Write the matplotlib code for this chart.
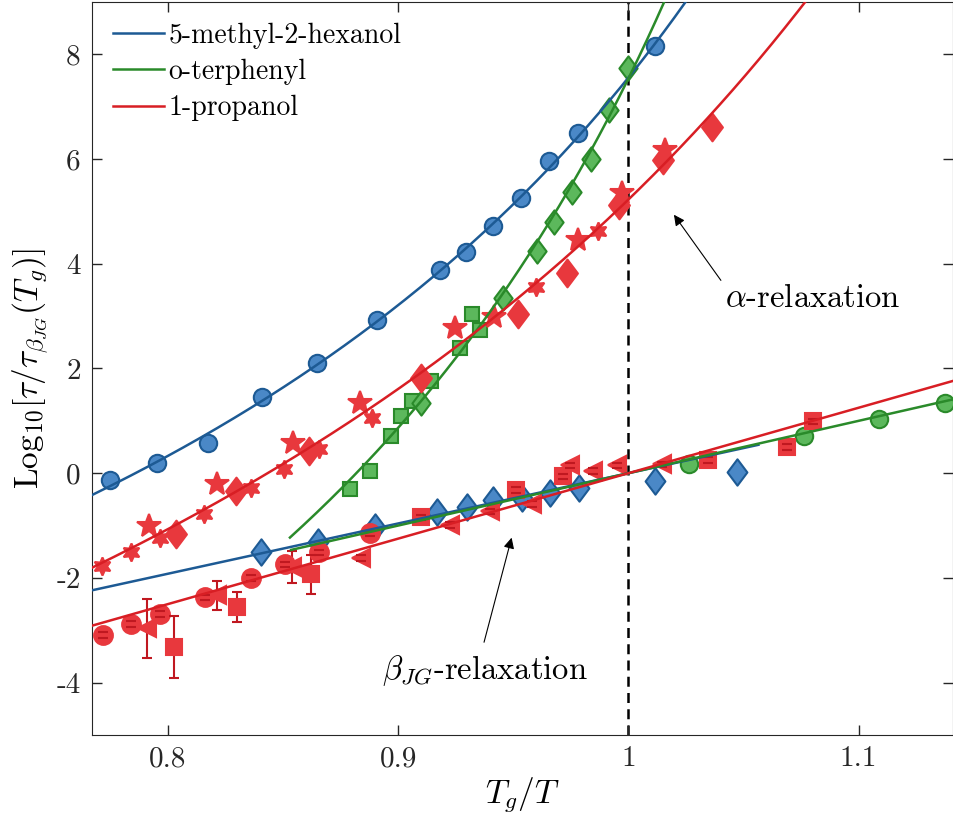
import numpy as np
import matplotlib.pyplot as plt
from matplotlib.path import Path

plt.rcParams['font.family'] = 'serif'
plt.rcParams['font.serif'] = ['cmr10']
plt.rcParams['mathtext.fontset'] = 'cm'
plt.rcParams['axes.unicode_minus'] = False
plt.rcParams['axes.formatter.use_mathtext'] = False

# --- alpha relaxation -------------------------------------------------------
mh_a_x = [0.7748, 0.7952, 0.8174, 0.8409, 0.8648, 0.8909, 0.9183, 0.9296,
          0.9413, 0.9535, 0.9657, 0.9783, 1.0117]
mh_a_y = [-0.13, 0.19, 0.57, 1.45, 2.10, 2.92, 3.88, 4.22, 4.72, 5.25, 5.97,
          6.50, 8.15]

otp_sq_x = [0.8791, 0.8878, 0.8970, 0.9013, 0.9061, 0.9143, 0.9270, 0.9322, 0.9357]
otp_sq_y = [-0.31, 0.04, 0.71, 1.09, 1.37, 1.76, 2.40, 3.05, 2.73]
otp_dm_x = [0.9100, 0.9457, 0.9604, 0.9678, 0.9757, 0.9839, 0.9917, 1.0000]
otp_dm_y = [1.34, 3.34, 4.24, 4.79, 5.38, 6.01, 6.93, 7.73]

pr_star_x = [0.7917, 0.8213, 0.8543, 0.8835, 0.9248, 0.9417, 0.9783, 0.9974, 1.0161]
pr_star_y = [-1.01, -0.21, 0.57, 1.34, 2.77, 2.98, 4.45, 5.36, 6.18]
pr_hex_x = [0.7713, 0.7839, 0.7965, 0.8157, 0.8361, 0.8504, 0.8657, 0.8887,
            0.9600, 0.9870]
pr_hex_y = [-1.77, -1.51, -1.24, -0.77, -0.29, 0.08, 0.46, 1.05, 3.55, 4.62]
pr_dm_x = [0.8035, 0.8296, 0.8613, 0.9100, 0.9522, 0.9735, 0.9961, 1.0152, 1.0365]
pr_dm_y = [-1.16, -0.34, 0.42, 1.81, 3.05, 3.82, 5.13, 5.99, 6.62]

# --- beta_JG relaxation -----------------------------------------------------
mh_b_x = [0.8404, 0.8652, 0.8900, 0.9170, 0.9300, 0.9413, 0.9539, 0.9660,
          0.9787, 1.0117, 1.0474]
mh_b_y = [-1.51, -1.32, -1.03, -0.74, -0.65, -0.52, -0.48, -0.38, -0.29,
          -0.15, 0.02]

otp_b_x = [1.0265, 1.0761, 1.1087, 1.1374]
otp_b_y = [0.17, 0.71, 1.03, 1.34]

pr_b_circ_x = [0.7717, 0.7839, 0.7965, 0.8161, 0.8361, 0.8509, 0.8657, 0.8878]
pr_b_circ_y = [-3.09, -2.88, -2.69, -2.37, -2.00, -1.74, -1.51, -1.15]
pr_b_circ_e = [0.05] * 8
pr_b_tri_x = [0.7909, 0.8213, 0.8539, 0.8840, 0.9226, 0.9400, 0.9583, 0.9748,
              0.9848, 0.9952, 1.0148]
pr_b_tri_y = [-2.96, -2.33, -1.79, -1.62, -0.99, -0.73, -0.59, 0.15, 0.04,
              0.15, 0.17]
pr_b_tri_e = [0.56, 0.28, 0.30, 0.05, 0.05, 0.05, 0.05, 0.05, 0.05, 0.05, 0.05]
pr_b_sq_x = [0.8026, 0.8300, 0.8622, 0.9100, 0.9513, 0.9717, 1.0348, 1.0687, 1.0800]
pr_b_sq_y = [-3.32, -2.56, -1.93, -0.84, -0.32, -0.06, 0.25, 0.50, 0.99]
pr_b_sq_e = [0.60, 0.29, 0.37, 0.05, 0.05, 0.05, 0.05, 0.05, 0.05]

# Arrhenius slopes of the beta_JG fits, log10(tau/tau(Tg)) = s*(Tg/T - 1)
beta_slope = {'mh': 9.6, 'otp': 10.0, 'pr': 12.5}
beta_range = {'mh': (0.767, 1.0565), 'otp': (0.8535, 1.141), 'pr': (0.767, 1.141)}
alpha_start = {'mh': 0.767, 'otp': 0.853, 'pr': 0.767}

blue, blue_f = '#1d5a94', '#4a88c7'
green, green_f = '#2a8a2a', '#5cb85c'
red, red_f = '#d81e24', '#e8383d'
red_cap = '#c01820'


def vft_fit(x, y):
    # y = A + B*x/(1 - c*x), i.e. VFT written in Tg/T
    x, y = np.asarray(x), np.asarray(y)
    best = None
    for c in np.linspace(0.0, 0.86, 861):
        X = np.column_stack([np.ones_like(x), x / (1 - c * x)])
        coef = np.linalg.lstsq(X, y, rcond=None)[0]
        err = np.sum((X @ coef - y) ** 2)
        if best is None or err < best[0]:
            best = (err, coef[0], coef[1], c)
    return best[1:]


def vft_curve(params, x0, x1=1.141):
    A, B, c = params
    xx = np.linspace(x0, x1, 400)
    yy = A + B * xx / (1 - c * xx)
    yy[(1 - c * xx) <= 0] = np.nan
    return xx, yy


diamond = Path([(0, 1), (0.75, 0), (0, -1), (-0.75, 0), (0, 1)],
               [Path.MOVETO, Path.LINETO, Path.LINETO, Path.LINETO, Path.CLOSEPOLY])
hexagram = (6, 1, 0)

fig = plt.figure(figsize=(9.54, 8.32), dpi=100)
ax = fig.add_axes([0.0964, 0.1166, 0.9025, 0.881])

# fitted curves, drawn over the symbols
mh_fit = vft_fit(mh_a_x, mh_a_y)
otp_fit = vft_fit(otp_sq_x + otp_dm_x, otp_sq_y + otp_dm_y)
pr_fit = vft_fit(pr_star_x + pr_hex_x + pr_dm_x, pr_star_y + pr_hex_y + pr_dm_y)

ax.plot(*vft_curve(mh_fit, alpha_start['mh']), color=blue, lw=1.8,
        label='5-methyl-2-hexanol', zorder=5)
ax.plot(*vft_curve(otp_fit, alpha_start['otp']), color=green, lw=1.8,
        label='o-terphenyl', zorder=5)
ax.plot(*vft_curve(pr_fit, alpha_start['pr']), color=red, lw=1.8,
        label='1-propanol', zorder=5)

for key, col in [('mh', blue), ('otp', green), ('pr', red)]:
    xb = np.linspace(*beta_range[key], 50)
    ax.plot(xb, beta_slope[key] * (xb - 1), color=col, lw=1.8, zorder=5)

ax.axvline(1.0, color='k', ls=(0, (4, 2.5)), lw=1.8, zorder=1)

mk = dict(ls='none', zorder=3, markeredgewidth=1.5)

# alpha data
ax.plot(mh_a_x, mh_a_y, marker='o', ms=12.5, mfc=blue_f, mec=blue, **mk)
ax.plot(otp_sq_x, otp_sq_y, marker='s', ms=10, mfc=green_f, mec=green, **mk)
ax.plot(otp_dm_x, otp_dm_y, marker=diamond, ms=17.5, mfc=green_f, mec=green, **mk)
ax.plot(pr_star_x, pr_star_y, marker='*', ms=18, mfc=red_f, mec=red_f, **mk)
ax.plot(pr_hex_x, pr_hex_y, marker=hexagram, ms=13, mfc=red_f, mec=red_f, **mk)
ax.plot(pr_dm_x, pr_dm_y, marker=diamond, ms=20, mfc=red_f, mec=red_f, **mk)

# beta data
ax.plot(mh_b_x, mh_b_y, marker=diamond, ms=19, mfc=blue_f, mec=blue, **mk)
ax.plot(otp_b_x, otp_b_y, marker='o', ms=12.5, mfc=green_f, mec=green, **mk)
ax.plot(pr_b_circ_x, pr_b_circ_y, marker='o', ms=13.5, mfc=red_f, mec=red_f, **mk)
ax.plot(pr_b_tri_x, pr_b_tri_y, marker='<', ms=13.5, mfc=red_f, mec=red_f, **mk)
ax.plot(pr_b_sq_x, pr_b_sq_y, marker='s', ms=11, mfc=red_f, mec=red_f, **mk)
for xs, ys, es in [(pr_b_circ_x, pr_b_circ_y, pr_b_circ_e),
                   (pr_b_tri_x, pr_b_tri_y, pr_b_tri_e),
                   (pr_b_sq_x, pr_b_sq_y, pr_b_sq_e)]:
    eb = ax.errorbar(xs, ys, yerr=es, fmt='none', ecolor=red_cap, elinewidth=1.5,
                     capsize=3.5, capthick=1.5)
    for cap in eb[1]:
        cap.set_zorder(4)
    for bar in eb[2]:
        bar.set_zorder(2.5)

ax.annotate('', xy=(1.0191, 4.98), xytext=(1.0409, 3.64),
            arrowprops=dict(arrowstyle='-|>', color='k', lw=0.8, mutation_scale=16))
ax.text(1.080, 3.34, r'$\alpha$-relaxation', ha='center', va='center', fontsize=23.5)
ax.annotate('', xy=(0.9496, -1.18), xytext=(0.937, -3.28),
            arrowprops=dict(arrowstyle='-|>', color='k', lw=0.8, mutation_scale=16))
ax.text(0.9378, -3.76, r'$\beta_{JG}$-relaxation', ha='center', va='center', fontsize=23.5)

ax.set_xlim(0.767, 1.141)
ax.set_ylim(-5, 9)
ax.set_xticks([0.8, 0.9, 1.0, 1.1])
ax.set_xticklabels(['0.8', '0.9', '1', '1.1'])
ax.set_yticks([-4, -2, 0, 2, 4, 6, 8])
ax.tick_params(direction='in', length=7, width=1, top=True, right=True,
               labelsize=21, pad=8, colors='#262626')
for s in ax.spines.values():
    s.set_color('#262626')
ax.set_xlabel(r'$T_g/T$', fontsize=24, labelpad=2)
ax.set_ylabel(r'Log$_{10}[\tau/\tau_{\beta_{JG}}(T_g)]$', fontsize=24, labelpad=4)

ax.legend(loc='upper left', frameon=False, fontsize=20, handlelength=1.85,
          handletextpad=0.15, labelspacing=0.35, borderaxespad=0.35)

fig.savefig('out.png', dpi=100)
